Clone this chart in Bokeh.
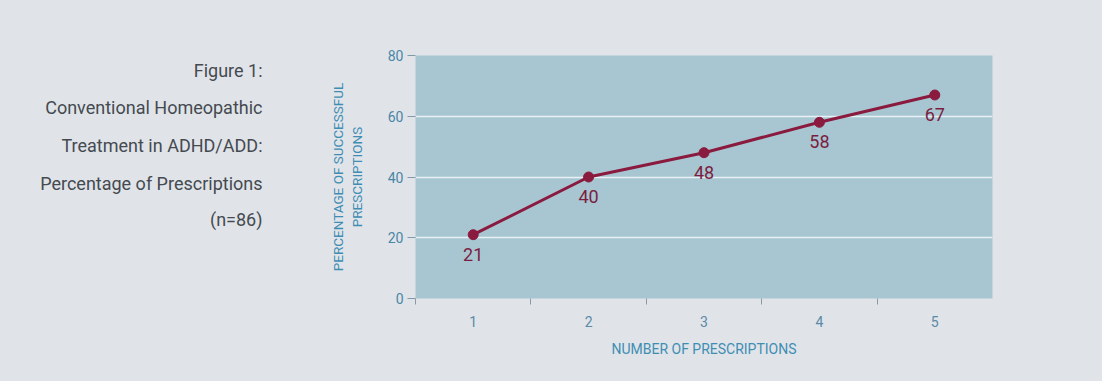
from bokeh.plotting import figure
from bokeh.models import FixedTicker, ColumnDataSource, LabelSet, Range1d
from bokeh.layouts import row
from bokeh.core.properties import value
from bokeh.embed import file_html
from bokeh.resources import INLINE

# Data
prescriptions = [1, 2, 3, 4, 5]
success_pct = [21, 40, 48, 58, 67]
value_labels = ["21", "40", "48", "58", "67"]
y_ticks = [0, 20, 40, 60, 80]
title_lines = ["Figure 1:", "Conventional Homeopathic", "Treatment in ADHD/ADD:",
               "Percentage of Prescriptions", "(n=86)"]

FONT = "Roboto"
BLUE = "#3f8db3"
RED = "#8a1a3e"
PAGE = "#e0e4e9"

# ---- title panel (left) ----
t = figure(width=300, height=381, output_backend="svg", toolbar_location=None,
           x_range=Range1d(0, 300), y_range=Range1d(298, 55),
           min_border_left=0, min_border_right=0, min_border_top=55, min_border_bottom=83,
           outline_line_color=None)
t.axis.visible = False
t.grid.visible = False
t.background_fill_color = PAGE
t.border_fill_color = PAGE
title_y = [70, 107, 145, 183, 219]
t.text(x=[262] * len(title_lines), y=title_y, text=title_lines,
       text_align="right", text_baseline="middle",
       text_font=value(FONT), text_font_size="18px", text_color="#454a50")

# ---- chart ----
p = figure(width=802, height=381, output_backend="svg", toolbar_location=None,
           x_range=Range1d(0.5, 5.5), y_range=Range1d(0, 80),
           min_border_left=115, min_border_right=110, min_border_top=55, min_border_bottom=83)

p.background_fill_color = "#a8c6d2"
p.border_fill_color = PAGE
p.outline_line_color = None

p.xgrid.grid_line_color = None
p.ygrid.ticker = FixedTicker(ticks=[20, 40, 60])
p.ygrid.grid_line_color = "white"
p.ygrid.grid_line_alpha = 0.75
p.ygrid.grid_line_width = 1.5

p.yaxis.ticker = FixedTicker(ticks=y_ticks)
p.yaxis.axis_line_color = None
p.yaxis.major_tick_line_color = "#7f9aa8"
p.yaxis.major_tick_in = 0
p.yaxis.major_tick_out = 8
p.yaxis.minor_tick_line_color = None
p.yaxis.major_label_text_font = FONT
p.yaxis.major_label_text_font_size = "14px"
p.yaxis.major_label_text_color = "#4a86a6"
p.yaxis.major_label_standoff = 4
p.yaxis.axis_label = "PERCENTAGE OF SUCCESSFUL\nPRESCRIPTIONS"
p.yaxis.axis_label_text_font = FONT
p.yaxis.axis_label_text_font_size = "13.5px"
p.yaxis.axis_label_text_font_style = "normal"
p.yaxis.axis_label_text_color = BLUE
p.yaxis.axis_label_standoff = 20

p.xaxis.ticker = FixedTicker(ticks=prescriptions, minor_ticks=[0.5, 1.5, 2.5, 3.5, 4.5])
p.xaxis.axis_line_color = None
p.xaxis.major_tick_line_color = None
p.xaxis.minor_tick_line_color = "#8a9aa6"
p.xaxis.minor_tick_in = 0
p.xaxis.minor_tick_out = 6
p.xaxis.major_label_text_font = FONT
p.xaxis.major_label_text_font_size = "14px"
p.xaxis.major_label_text_color = "#5a8aa6"
p.xaxis.major_label_standoff = 11
p.xaxis.axis_label = "NUMBER OF PRESCRIPTIONS"
p.xaxis.axis_label_text_font = FONT
p.xaxis.axis_label_text_font_size = "14px"
p.xaxis.axis_label_text_font_style = "normal"
p.xaxis.axis_label_text_color = BLUE
p.xaxis.axis_label_standoff = 11

src = ColumnDataSource(dict(x=prescriptions, y=success_pct, lab=value_labels))
p.line("x", "y", source=src, line_color=RED, line_width=3)
p.scatter("x", "y", source=src, size=10, fill_color=RED, line_color=RED)
p.add_layout(LabelSet(x="x", y="y", text="lab", source=src, y_offset=-13,
                      text_align="center", text_baseline="top",
                      text_font=value(FONT), text_font_size="18px", text_color="#7a1e40"))

layout = row(t, p, spacing=0, styles={"background-color": PAGE})
open("out.html", "w").write(file_html(layout, INLINE))
